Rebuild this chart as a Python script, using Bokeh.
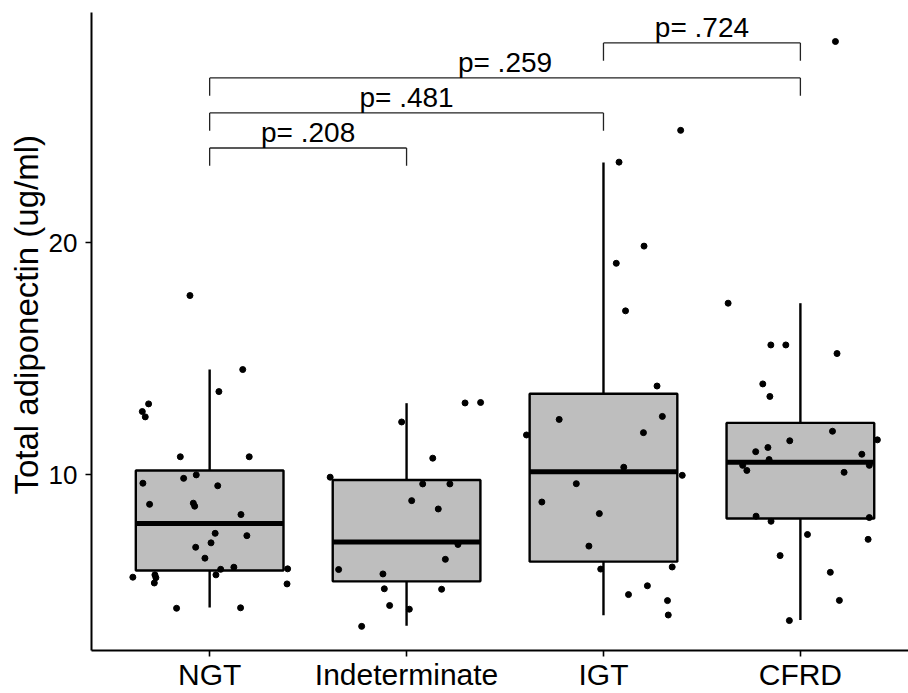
from bokeh.plotting import figure
from bokeh.models import Range1d, FixedTicker, ColumnDataSource, Title
from bokeh.transform import dodge
from bokeh.core.properties import value
from bokeh.embed import file_html
from bokeh.resources import INLINE

# ---------------- data ----------------
groups = ["NGT", "Indeterminate", "IGT", "CFRD"]

# box statistics per group
q1 = [5.88, 5.41, 6.26, 8.12]
median = [7.90, 7.11, 10.14, 10.54]
q3 = [10.19, 9.78, 13.50, 12.24]
whisk_lo = [4.28, 3.50, 3.95, 3.75]
whisk_hi = [14.54, 13.09, 23.46, 17.40]

# jittered points: horizontal offset (category units) and value
ngt_off = [0.168, 0.047, -0.310, -0.342, -0.327, -0.149, 0.201, -0.132, -0.068, -0.339,
           0.041, -0.305, -0.083, -0.076, 0.159, 0.028, 0.189, 0.007, -0.071, -0.024,
           0.056, 0.123, 0.032, 0.396, -0.390, -0.278, -0.273, -0.281, 0.393, -0.168,
           0.157, -0.100]
ngt_val = [14.54, 13.59, 13.06, 12.73, 12.50, 10.78, 10.78, 9.85, 10.00, 9.64,
           9.53, 8.73, 8.78, 8.65, 8.29, 7.48, 7.38, 7.07, 6.88, 6.41,
           5.93, 6.02, 5.69, 5.95, 5.59, 5.69, 5.57, 5.34, 5.30, 4.25,
           4.27, 17.73]

ind_off = [0.297, 0.376, -0.025, 0.133, -0.388, 0.082, 0.220, 0.026, 0.161, 0.261,
           0.197, -0.345, -0.120, -0.113, 0.178, -0.086, 0.014, -0.228]
ind_val = [13.10, 13.12, 12.28, 10.72, 9.90, 9.61, 9.61, 8.89, 8.53, 7.00,
           6.36, 5.92, 5.73, 5.09, 5.07, 4.37, 4.21, 3.47]

igt_off = [0.392, 0.079, 0.206, 0.065, 0.112, 0.272, -0.225, 0.299, -0.391, 0.203,
           0.103, 0.400, -0.138, -0.313, -0.021, -0.074, -0.014, 0.349, 0.223, 0.127,
           0.325, 0.329]
igt_val = [24.85, 23.48, 19.86, 19.12, 17.07, 13.83, 12.39, 12.52, 11.72, 11.82,
           10.33, 9.98, 9.62, 8.83, 8.33, 6.93, 5.94, 6.03, 5.22, 4.84,
           4.58, 3.96]

cfrd_off = [-0.367, -0.150, -0.074, 0.186, -0.191, -0.155, 0.163, -0.054, 0.391, -0.227,
            -0.165, 0.312, -0.159, -0.293, -0.272, 0.222, 0.350, -0.225, 0.350, -0.149,
            0.036, 0.344, -0.103, 0.152, 0.198, -0.056, 0.178]
cfrd_val = [17.40, 15.60, 15.60, 15.23, 13.92, 13.38, 11.88, 11.47, 11.51, 11.00,
            11.18, 10.89, 10.66, 10.41, 10.19, 10.11, 10.41, 8.22, 8.16, 8.00,
            7.43, 7.22, 6.52, 5.80, 4.59, 3.72, 28.68]

# significance brackets: (group a, group b, bracket level, label)
cmp_a = [1, 1, 1, 3]
cmp_b = [2, 3, 4, 4]
cmp_level = [24.09, 25.60, 27.11, 28.62]
cmp_label = ["p= .208", "p= .481", "p= .259", "p= .724"]

y_ticks = [10, 20]
y_title = "Total adiponectin (ug/ml)"

# ---------------- figure ----------------
FONT = "Liberation Sans"
W, H = 908, 693
BL, BT, BB = 91, 12, 39
x0, x1 = 0.4, 4.549
y0, y1 = 2.43, 29.93
px_y = 23.2

p = figure(width=W, height=H, x_range=Range1d(x0, x1), y_range=Range1d(y0, y1),
           output_backend="svg", toolbar_location=None,
           min_border_left=BL, min_border_right=0, min_border_top=BT, min_border_bottom=BB)
p.background_fill_color = "white"
p.border_fill_color = "white"
p.outline_line_color = None
p.xgrid.visible = False
p.ygrid.visible = False

for ax in (p.xaxis[0], p.yaxis[0]):
    ax.axis_line_color = "black"
    ax.axis_line_width = 2
    ax.major_tick_line_color = "black"
    ax.major_tick_line_width = 1.6
    ax.major_tick_out = 6
    ax.major_tick_in = 0
    ax.minor_tick_line_color = None
    ax.major_label_text_font = FONT
    ax.major_label_text_color = "black"

xs = [i + 1 for i in range(len(groups))]
p.xaxis.ticker = FixedTicker(ticks=xs)
p.xaxis.major_label_overrides = {x: g for x, g in zip(xs, groups)}
p.xaxis.major_label_text_font_size = "30px"
p.xaxis.major_label_standoff = 1

p.yaxis.ticker = FixedTicker(ticks=y_ticks)
p.yaxis.major_label_text_font_size = "26px"
p.yaxis.major_label_standoff = 8

# y-axis title, placed as a left-side title
ttl = Title(text=y_title, align="left", offset=156, standoff=2,
            text_font=FONT, text_font_size="33px", text_font_style="normal",
            text_color="black")
p.add_layout(ttl, "left")

# boxes
box_src = ColumnDataSource(dict(x=xs, q1=q1, med=median, q3=q3, lo=whisk_lo, hi=whisk_hi))
p.segment(x0="x", y0="q3", x1="x", y1="hi", source=box_src, line_color="black", line_width=2.4)
p.segment(x0="x", y0="lo", x1="x", y1="q1", source=box_src, line_color="black", line_width=2.4)
p.vbar(x="x", width=0.75, bottom="q1", top="q3", source=box_src,
       fill_color="#BEBEBE", line_color="black", line_width=2.4)
p.segment(x0=dodge("x", -0.375), y0="med", x1=dodge("x", 0.375), y1="med", source=box_src,
          line_color="black", line_width=5)

# points
pt_x, pt_y = [], []
for gi, (offs, vals) in enumerate([(ngt_off, ngt_val), (ind_off, ind_val),
                                    (igt_off, igt_val), (cfrd_off, cfrd_val)]):
    pt_x += [gi + 1 + o for o in offs]
    pt_y += vals
p.scatter(pt_x, pt_y, size=6, fill_color="black", line_color="black")

# brackets
tick_len = 0.77
p.segment(x0=cmp_a, y0=cmp_level, x1=cmp_b, y1=cmp_level, line_color="#222222", line_width=1.3)
p.segment(x0=cmp_a, y0=cmp_level, x1=cmp_a, y1=[v - tick_len for v in cmp_level],
          line_color="#222222", line_width=1.3)
p.segment(x0=cmp_b, y0=cmp_level, x1=cmp_b, y1=[v - tick_len for v in cmp_level],
          line_color="#222222", line_width=1.3)
txt_src = ColumnDataSource(dict(x=[(a + b) / 2 for a, b in zip(cmp_a, cmp_b)],
                                y=[v + 15 / px_y for v in cmp_level], t=cmp_label))
p.text(x="x", y="y", text="t", source=txt_src, text_align="center", text_baseline="alphabetic",
       text_font=value(FONT), text_font_size="28px", text_color="black")

open("out.html", "w").write(file_html(p, INLINE))
